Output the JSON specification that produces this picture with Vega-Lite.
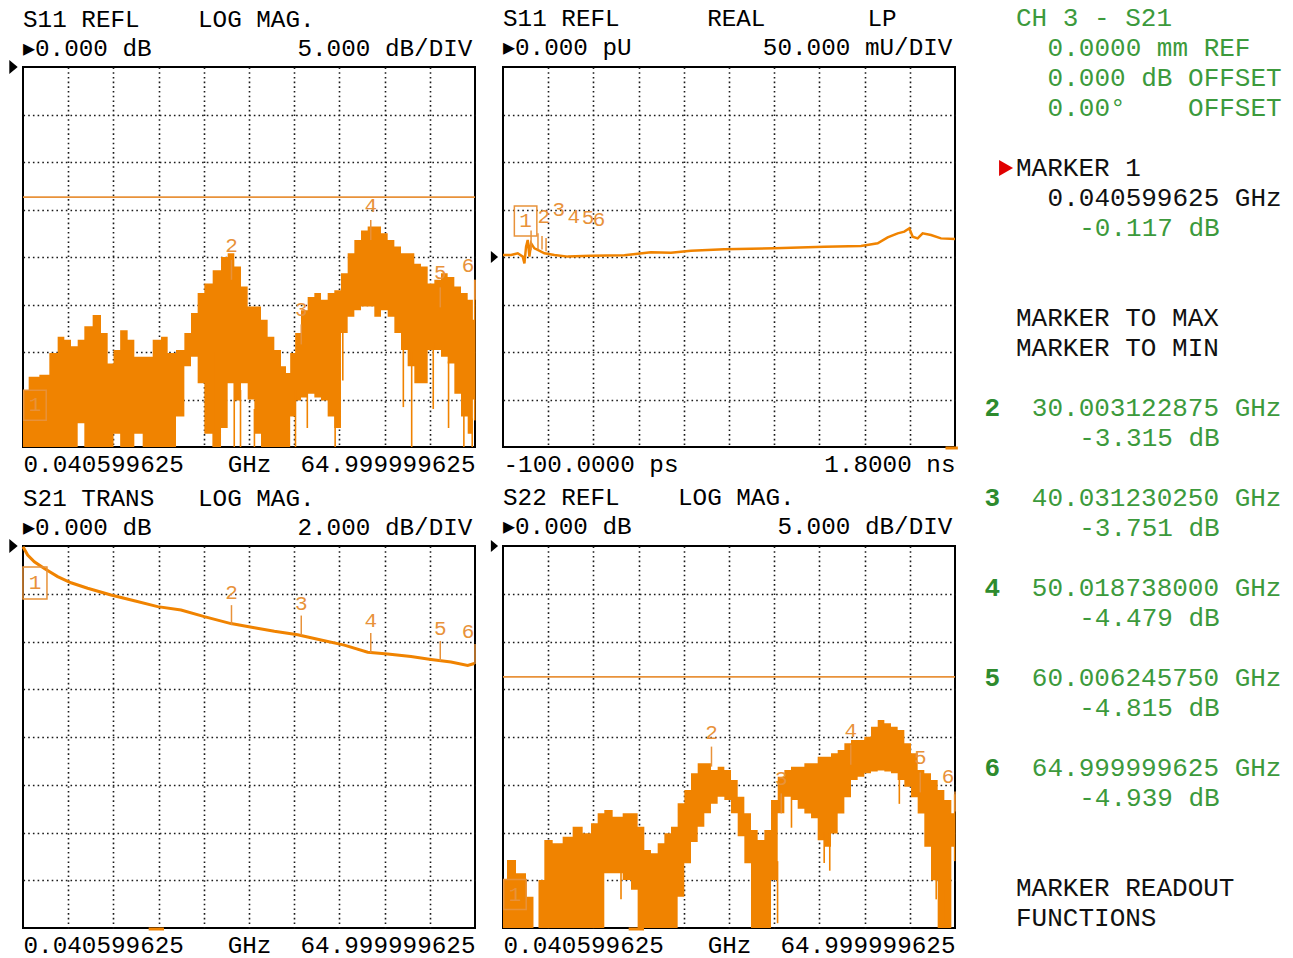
{
"$schema": "https://vega.github.io/schema/vega-lite/v6.json",
"background": "white",
"padding": {"left": 8, "top": 5, "right": 0, "bottom": 0},
"bounds": "flush",
"columns": 3,
"spacing": {"row": 99, "column": 28},
"config": {
  "view": {"stroke": "#000", "strokeWidth": 2},
  "axis": {"grid": true, "gridColor": "#1a1a1a", "gridDash": [1.6, 3.1], "gridWidth": 1.6, "labels": false, "ticks": false, "domain": false, "titleFont": "Liberation Mono", "titleFontSize": 24.3, "titleFontWeight": "normal", "titleColor": "#000"},
  "title": {"font": "Liberation Mono", "fontSize": 24.3, "fontWeight": "normal", "color": "#000", "anchor": "start", "frame": "group", "lineHeight": 29, "offset": 0},
  "text": {"font": "Liberation Mono"}
},
"concat": [
   {"width": 452, "height": 380,
    "title": {"text": ["S11\u00a0REFL\u00a0\u00a0\u00a0\u00a0LOG\u00a0MAG.", "▸0.000\u00a0dB\u00a0\u00a0\u00a0\u00a0\u00a0\u00a0\u00a0\u00a0\u00a0\u00a05.000\u00a0dB/DIV"], "offset": -1.5},
    "layer": [
     {"data": {"values": [
       {"f":0.04,"hi":-34.0,"lo":-40},{"f":1.67,"hi":-32.6,"lo":-40},{"f":3.11,"hi":-32.4,"lo":-40},{"f":4.54,"hi":-30.1,"lo":-40},{"f":5.50,"hi":-28.4,"lo":-40},{"f":6.46,"hi":-28.7,"lo":-40},{"f":7.42,"hi":-29.4,"lo":-40},{"f":8.38,"hi":-28.7,"lo":-37.5},{"f":9.33,"hi":-27.3,"lo":-40},{"f":10.77,"hi":-26.1,"lo":-40},{"f":11.73,"hi":-28.0,"lo":-40},{"f":12.69,"hi":-31.2,"lo":-40},{"f":13.41,"hi":-29.8,"lo":-38.6},{"f":14.60,"hi":-27.7,"lo":-40},{"f":15.56,"hi":-28.7,"lo":-40},{"f":16.52,"hi":-30.5,"lo":-38.6},{"f":17.96,"hi":-30.5,"lo":-40},{"f":19.40,"hi":-28.7,"lo":-40},{"f":20.35,"hi":-28.4,"lo":-40},{"f":21.31,"hi":-30.1,"lo":-40},{"f":22.75,"hi":-29.8,"lo":-36.8},{"f":23.71,"hi":-28.0,"lo":-31.5},{"f":24.66,"hi":-25.9,"lo":-30.5},{"f":25.62,"hi":-23.8,"lo":-33.3},{"f":26.58,"hi":-22.8,"lo":-38.6},{"f":28.02,"hi":-21.4,"lo":-40},{"f":28.98,"hi":-20.0,"lo":-38.0},{"f":29.93,"hi":-19.6,"lo":-33.3},{"f":30.89,"hi":-21.0,"lo":-35.1},{"f":31.85,"hi":-23.1,"lo":-33.3},{"f":32.81,"hi":-25.2,"lo":-35.0},{"f":33.77,"hi":-25.2,"lo":-38.6},{"f":34.72,"hi":-26.6,"lo":-40},{"f":35.68,"hi":-28.4,"lo":-40},{"f":36.64,"hi":-29.8,"lo":-40},{"f":37.60,"hi":-31.5,"lo":-40},{"f":38.08,"hi":-32.2,"lo":-40},{"f":38.80,"hi":-30.1,"lo":-36.8},{"f":39.51,"hi":-28.0,"lo":-35.1},{"f":40.47,"hi":-25.6,"lo":-34.8},{"f":41.43,"hi":-24.2,"lo":-34.4},{"f":42.39,"hi":-23.8,"lo":-34.8},{"f":43.35,"hi":-24.5,"lo":-35.1},{"f":44.30,"hi":-23.8,"lo":-36.8},{"f":45.26,"hi":-23.5,"lo":-38.0},{"f":46.22,"hi":-21.7,"lo":-28.0},{"f":47.18,"hi":-19.6,"lo":-26.3},{"f":48.14,"hi":-18.2,"lo":-25.6},{"f":49.10,"hi":-17.2,"lo":-25.2},{"f":50.05,"hi":-16.8,"lo":-25.2},{"f":51.01,"hi":-16.8,"lo":-26.3},{"f":51.97,"hi":-17.5,"lo":-25.6},{"f":52.93,"hi":-18.2,"lo":-26.3},{"f":53.89,"hi":-18.9,"lo":-28.0},{"f":54.84,"hi":-19.6,"lo":-29.8},{"f":55.80,"hi":-19.6,"lo":-31.5},{"f":56.76,"hi":-20.7,"lo":-33.3},{"f":57.72,"hi":-21.0,"lo":-33.3},{"f":58.68,"hi":-22.8,"lo":-29.8},{"f":59.63,"hi":-22.4,"lo":-29.8},{"f":60.59,"hi":-21.7,"lo":-30.5},{"f":61.55,"hi":-22.1,"lo":-31.2},{"f":62.51,"hi":-23.1,"lo":-34.4},{"f":63.47,"hi":-23.8,"lo":-36.8},{"f":64.43,"hi":-24.5,"lo":-38.6},{"f":64.96,"hi":-26.6,"lo":-35.0}]},
      "mark": {"type": "area", "color": "#f08300", "opacity": 1, "interpolate": "step"},
      "encoding": {
       "x": {"field": "f", "type": "quantitative", "scale": {"domain": [0.040599625, 64.999999625], "nice": false, "zero": false}, "axis": {"values": [6.5365,13.0325,19.5284,26.0244,32.5203,39.0162,45.5122,52.0081,58.5041], "title": "0.040599625\u00a0\u00a0\u00a0GHz\u00a0\u00a064.999999625", "titleAnchor": "start", "titleAlign": "left", "titleBaseline": "top", "titlePadding": 5}},
       "y": {"field": "hi", "type": "quantitative", "scale": {"domain": [-40, 0], "nice": false, "zero": false}, "axis": {"values": [-35,-30,-25,-20,-15,-10,-5], "title": null}},
       "y2": {"field": "lo"}}},
     {"data": {"values": [{"f":27.4,"top":-30,"bot":-40},{"f":30.4,"top":-33,"bot":-40},{"f":31.3,"top":-34,"bot":-40},{"f":33.3,"top":-36,"bot":-40},{"f":39.2,"top":-34,"bot":-40},{"f":40.9,"top":-34,"bot":-38},{"f":44.9,"top":-36,"bot":-40},{"f":46.0,"top":-28,"bot":-33},{"f":54.7,"top":-29,"bot":-35.8},{"f":55.9,"top":-30,"bot":-40},{"f":59.0,"top":-29,"bot":-36},{"f":61.2,"top":-31,"bot":-38},{"f":63.4,"top":-36,"bot":-40},{"f":64.6,"top":-37,"bot":-40},{"f":64.96,"top":-22.4,"bot":-37.2}]},
      "mark": {"type": "rule", "color": "#f08300", "strokeWidth": 1.6},
      "encoding": {"x": {"field": "f", "type": "quantitative"}, "y": {"field": "top", "type": "quantitative"}, "y2": {"field": "bot"}}},
     {"data": {"values": [{}]}, "mark": {"type": "rule", "color": "#e8923a", "strokeWidth": 1.6}, "encoding": {"y": {"datum": -13.7}}},
     {"data": {"values": [{"m":"2","f":30.003,"v":-22.4},{"m":"3","f":40.031,"v":-29.2},{"m":"4","f":50.019,"v":-18.2},{"m":"5","f":60.006,"v":-25.3},{"m":"6","f":64.9999,"v":-24.5}]},
      "layer": [
       {"mark": {"type": "rule", "color": "#e8923a", "strokeWidth": 1.5, "y2Offset": -20}, "encoding": {"x": {"field": "f", "type": "quantitative"}, "y": {"field": "v", "type": "quantitative"}, "y2": {"field": "v"}}},
       {"transform": [{"filter": "datum.m !== '6'"}], "mark": {"type": "text", "color": "#e8923a", "fontSize": 21, "dy": -34}, "encoding": {"x": {"field": "f", "type": "quantitative"}, "y": {"field": "v", "type": "quantitative"}, "text": {"field": "m"}}},
       {"transform": [{"filter": "datum.m === '6'"}], "mark": {"type": "text", "color": "#e8923a", "fontSize": 21, "dy": -34, "dx": -7}, "encoding": {"x": {"field": "f", "type": "quantitative"}, "y": {"field": "v", "type": "quantitative"}, "text": {"field": "m"}}}
      ]},
     {"data": {"values": [{"m":"1","f":1.76,"v":-35.6}]},
      "layer": [
       {"mark": {"type": "point", "shape": "M-0.75,-1L0.75,-1L0.75,1L-0.75,1Z", "size": 900, "filled": false, "color": "#e8923a", "strokeWidth": 1.5, "opacity": 1}, "encoding": {"x": {"field": "f", "type": "quantitative"}, "y": {"field": "v", "type": "quantitative"}}},
       {"mark": {"type": "text", "color": "#e8923a", "fontSize": 21}, "encoding": {"x": {"field": "f", "type": "quantitative"}, "y": {"field": "v", "type": "quantitative"}, "text": {"field": "m"}}}
      ]},
     {"data": {"values": [{}]}, "mark": {"type": "point", "shape": "M-0.6,-1L0.6,0L-0.6,1Z", "filled": true, "color": "#000", "size": 196, "xOffset": -9.5, "opacity": 1}, "encoding": {"x": {"datum": 0.040599625}, "y": {"datum": 0}}}
    ]},
   {"width": 452, "height": 380,
    "title": {"text": ["S11\u00a0REFL\u00a0\u00a0\u00a0\u00a0\u00a0\u00a0REAL\u00a0\u00a0\u00a0\u00a0\u00a0\u00a0\u00a0LP", "▸0.000\u00a0pU\u00a0\u00a0\u00a0\u00a0\u00a0\u00a0\u00a0\u00a0\u00a050.000\u00a0mU/DIV"], "offset": 7},
    "layer": [
     {"data": {"values": [{"t":-0.1,"v":2.1},{"t":-0.066,"v":2.1},{"t":-0.038,"v":3.9},{"t":-0.017,"v":0.4},{"t":-0.010,"v":-6.7},{"t":-0.003,"v":10.9},{"t":0.004,"v":17.9},{"t":0.011,"v":0.4},{"t":0.018,"v":14.4},{"t":0.032,"v":9.1},{"t":0.046,"v":7.4},{"t":0.074,"v":3.9},{"t":0.116,"v":2.1},{"t":0.172,"v":0.4},{"t":0.270,"v":1.4},{"t":0.410,"v":1.8},{"t":0.522,"v":4.9},{"t":0.606,"v":4.6},{"t":0.690,"v":6.7},{"t":0.830,"v":8.1},{"t":1.041,"v":9.1},{"t":1.251,"v":10.9},{"t":1.405,"v":11.6},{"t":1.475,"v":14.4},{"t":1.517,"v":20.7},{"t":1.559,"v":24.9},{"t":1.587,"v":26.7},{"t":1.608,"v":30.2},{"t":1.622,"v":21.4},{"t":1.643,"v":19.6},{"t":1.664,"v":24.9},{"t":1.699,"v":23.2},{"t":1.741,"v":19.6},{"t":1.800,"v":18.9}]},
      "mark": {"type": "line", "color": "#f08300", "strokeWidth": 2.5},
      "encoding": {
       "x": {"field": "t", "type": "quantitative", "scale": {"domain": [-0.1, 1.8], "nice": false, "zero": false}, "axis": {"values": [0.09,0.28,0.47,0.66,0.85,1.04,1.23,1.42,1.61], "title": "-100.0000\u00a0ps\u00a0\u00a0\u00a0\u00a0\u00a0\u00a0\u00a0\u00a0\u00a0\u00a01.8000\u00a0ns", "titleAnchor": "start", "titleAlign": "left", "titleBaseline": "top", "titlePadding": 5}},
       "y": {"field": "v", "type": "quantitative", "scale": {"domain": [-200, 200], "nice": false, "zero": false}, "axis": {"values": [-150,-100,-50,0,50,100,150], "title": null}}}},
     {"data": {"values": [{"t":0.018,"a":7,"b":28},{"t":0.047,"a":8,"b":25},{"t":0.064,"a":8,"b":22},{"t":0.081,"a":6,"b":20}]},
      "mark": {"type": "rule", "color": "#e8923a", "strokeWidth": 1.5},
      "encoding": {"x": {"field": "t", "type": "quantitative"}, "y": {"field": "a", "type": "quantitative"}, "y2": {"field": "b"}}},
     {"data": {"values": [{"m":"2","t":0.072,"v":42},{"m":"3","t":0.135,"v":49.5},{"m":"4","t":0.198,"v":42},{"m":"5","t":0.257,"v":41},{"m":"6","t":0.304,"v":39}]},
      "mark": {"type": "text", "color": "#e8923a", "fontSize": 21},
      "encoding": {"x": {"field": "t", "type": "quantitative"}, "y": {"field": "v", "type": "quantitative"}, "text": {"field": "m"}}},
     {"data": {"values": [{"m":"1","t":-0.005,"v":37.9}]},
      "layer": [
       {"mark": {"type": "point", "shape": "M-0.75,-1L0.75,-1L0.75,1L-0.75,1Z", "size": 900, "filled": false, "color": "#e8923a", "strokeWidth": 1.5, "opacity": 1}, "encoding": {"x": {"field": "t", "type": "quantitative"}, "y": {"field": "v", "type": "quantitative"}}},
       {"mark": {"type": "text", "color": "#e8923a", "fontSize": 21}, "encoding": {"x": {"field": "t", "type": "quantitative"}, "y": {"field": "v", "type": "quantitative"}, "text": {"field": "m"}}}
      ]},
     {"data": {"values": [{}]}, "mark": {"type": "rule", "color": "#f08300", "strokeWidth": 3, "yOffset": 1}, "encoding": {"x": {"datum": 1.76}, "x2": {"datum": 1.812}, "y": {"datum": -200}}},
     {"data": {"values": [{}]}, "mark": {"type": "point", "shape": "M-0.6,-1L0.6,0L-0.6,1Z", "filled": true, "color": "#000", "size": 144, "xOffset": -8.5, "opacity": 1}, "encoding": {"x": {"datum": -0.1}, "y": {"datum": 0}}}
    ]},
   {"width": 310, "height": 380,
    "view": {"stroke": null},
    "layer": [
     {"data": {"values": [
       {"line":0,"col":0,"text":"CH 3 - S21","kind":"green"},
       {"line":1,"col":2,"text":"0.0000 mm REF","kind":"green"},
       {"line":2,"col":2,"text":"0.000 dB OFFSET","kind":"green"},
       {"line":3,"col":2,"text":"0.00°\u00a0\u00a0\u00a0\u00a0OFFSET","kind":"green"},
       {"line":5,"col":0,"text":"MARKER 1","kind":"black"},
       {"line":6,"col":2,"text":"0.040599625 GHz","kind":"black"},
       {"line":7,"col":4,"text":"-0.117 dB","kind":"green"},
       {"line":10,"col":0,"text":"MARKER TO MAX","kind":"black"},
       {"line":11,"col":0,"text":"MARKER TO MIN","kind":"black"},
       {"line":13,"col":-2,"text":"2","kind":"num"},
       {"line":13,"col":1,"text":"30.003122875 GHz","kind":"green"},
       {"line":14,"col":4,"text":"-3.315 dB","kind":"green"},
       {"line":16,"col":-2,"text":"3","kind":"num"},
       {"line":16,"col":1,"text":"40.031230250 GHz","kind":"green"},
       {"line":17,"col":4,"text":"-3.751 dB","kind":"green"}]},
      "layer": [
       {"transform": [{"filter": "datum.kind !== 'num'"}],
        "mark": {"type": "text", "align": "left", "baseline": "middle", "fontSize": 26, "font": "Liberation Mono"},
        "encoding": {
         "x": {"field": "col", "type": "quantitative", "scale": {"domain": [-2.09, 17.53], "nice": false, "zero": false}, "axis": null},
         "y": {"field": "line", "type": "quantitative", "scale": {"domain": [1.6333, 14.3], "reverse": true, "nice": false, "zero": false}, "axis": null},
         "text": {"field": "text"},
         "color": {"field": "kind", "type": "nominal", "scale": {"domain": ["green", "black", "num"], "range": ["#3c9a3c", "#111111", "#2e8b2e"]}, "legend": null}}},
       {"transform": [{"filter": "datum.kind === 'num'"}],
        "mark": {"type": "text", "align": "left", "baseline": "middle", "fontSize": 26, "fontWeight": "bold", "font": "Liberation Mono"},
        "encoding": {
         "x": {"field": "col", "type": "quantitative"},
         "y": {"field": "line", "type": "quantitative"},
         "text": {"field": "text"},
         "color": {"field": "kind", "type": "nominal", "legend": null}}}
      ]},
     {"data": {"values": [{}]}, "mark": {"type": "point", "shape": "M-0.875,-1L0.875,0L-0.875,1Z", "filled": true, "color": "#e00000", "size": 256, "opacity": 1}, "encoding": {"x": {"datum": -0.63}, "y": {"datum": 5}}}
    ]},
   {"width": 452, "height": 382,
    "title": {"text": ["S21\u00a0TRANS\u00a0\u00a0\u00a0LOG\u00a0MAG.", "▸0.000\u00a0dB\u00a0\u00a0\u00a0\u00a0\u00a0\u00a0\u00a0\u00a0\u00a0\u00a02.000\u00a0dB/DIV"], "offset": -1.5},
    "layer": [
     {"data": {"values": [{"f":0.04,"v":-0.03},{"f":0.71,"v":-0.38},{"f":1.67,"v":-0.66},{"f":3.11,"v":-0.94},{"f":5.02,"v":-1.28},{"f":6.94,"v":-1.54},{"f":9.33,"v":-1.77},{"f":12.69,"v":-2.05},{"f":16.04,"v":-2.29},{"f":19.39,"v":-2.54},{"f":22.75,"v":-2.68},{"f":26.10,"v":-2.96},{"f":29.93,"v":-3.25},{"f":33.29,"v":-3.42},{"f":36.16,"v":-3.57},{"f":39.51,"v":-3.72},{"f":42.87,"v":-3.94},{"f":46.22,"v":-4.15},{"f":49.58,"v":-4.45},{"f":52.45,"v":-4.52},{"f":55.80,"v":-4.63},{"f":58.68,"v":-4.75},{"f":61.55,"v":-4.86},{"f":63.95,"v":-5.0},{"f":64.90,"v":-4.92}]},
      "mark": {"type": "line", "color": "#f08300", "strokeWidth": 3},
      "encoding": {
       "x": {"field": "f", "type": "quantitative", "scale": {"domain": [0.040599625, 64.999999625], "nice": false, "zero": false}, "axis": {"values": [6.5365,13.0325,19.5284,26.0244,32.5203,39.0162,45.5122,52.0081,58.5041], "title": "0.040599625\u00a0\u00a0\u00a0GHz\u00a0\u00a064.999999625", "titleAnchor": "start", "titleAlign": "left", "titleBaseline": "top", "titlePadding": 5}},
       "y": {"field": "v", "type": "quantitative", "scale": {"domain": [-16, 0], "nice": false, "zero": false}, "axis": {"values": [-14,-12,-10,-8,-6,-4,-2], "title": null}}}},
     {"data": {"values": [{"m":"2","f":30.003,"v":-3.315},{"m":"3","f":40.031,"v":-3.751},{"m":"4","f":50.019,"v":-4.479},{"m":"5","f":60.006,"v":-4.815},{"m":"6","f":64.9999,"v":-4.939}]},
      "layer": [
       {"mark": {"type": "rule", "color": "#e8923a", "strokeWidth": 1.5, "y2Offset": -20}, "encoding": {"x": {"field": "f", "type": "quantitative"}, "y": {"field": "v", "type": "quantitative"}, "y2": {"field": "v"}}},
       {"transform": [{"filter": "datum.m !== '6'"}], "mark": {"type": "text", "color": "#e8923a", "fontSize": 21, "dy": -32}, "encoding": {"x": {"field": "f", "type": "quantitative"}, "y": {"field": "v", "type": "quantitative"}, "text": {"field": "m"}}},
       {"transform": [{"filter": "datum.m === '6'"}], "mark": {"type": "text", "color": "#e8923a", "fontSize": 21, "dy": -32, "dx": -7}, "encoding": {"x": {"field": "f", "type": "quantitative"}, "y": {"field": "v", "type": "quantitative"}, "text": {"field": "m"}}}
      ]},
     {"data": {"values": [{"m":"1","f":1.76,"v":-1.55}]},
      "layer": [
       {"mark": {"type": "point", "shape": "M-0.75,-1L0.75,-1L0.75,1L-0.75,1Z", "size": 1024, "filled": false, "color": "#e8923a", "strokeWidth": 1.5, "opacity": 1}, "encoding": {"x": {"field": "f", "type": "quantitative"}, "y": {"field": "v", "type": "quantitative"}}},
       {"mark": {"type": "text", "color": "#e8923a", "fontSize": 21}, "encoding": {"x": {"field": "f", "type": "quantitative"}, "y": {"field": "v", "type": "quantitative"}, "text": {"field": "m"}}}
      ]},
     {"data": {"values": [{}]}, "mark": {"type": "rule", "color": "#f08300", "strokeWidth": 3, "yOffset": 1}, "encoding": {"x": {"datum": 18.1}, "x2": {"datum": 20.3}, "y": {"datum": -16}}},
     {"data": {"values": [{}]}, "mark": {"type": "point", "shape": "M-0.6,-1L0.6,0L-0.6,1Z", "filled": true, "color": "#000", "size": 196, "xOffset": -9.5, "opacity": 1}, "encoding": {"x": {"datum": 0.040599625}, "y": {"datum": 0}}}
    ]},
   {"width": 452, "height": 382,
    "title": {"text": ["S22\u00a0REFL\u00a0\u00a0\u00a0\u00a0LOG\u00a0MAG.", "▸0.000\u00a0dB\u00a0\u00a0\u00a0\u00a0\u00a0\u00a0\u00a0\u00a0\u00a0\u00a05.000\u00a0dB/DIV"], "offset": 1},
    "layer": [
     {"data": {"values": [
       {"f":0.04,"hi":-34.97,"lo":-40},{"f":1.19,"hi":-32.88,"lo":-40},{"f":2.63,"hi":-34.28,"lo":-40},{"f":4.06,"hi":-36.72,"lo":-40},{"f":4.78,"hi":-40,"lo":-40},{"f":5.50,"hi":-34.97,"lo":-40},{"f":6.46,"hi":-30.79,"lo":-40},{"f":7.90,"hi":-31.13,"lo":-40},{"f":9.33,"hi":-30.44,"lo":-40},{"f":10.77,"hi":-29.39,"lo":-40},{"f":12.21,"hi":-30.09,"lo":-40},{"f":13.17,"hi":-29.04,"lo":-40},{"f":14.12,"hi":-27.99,"lo":-40},{"f":15.08,"hi":-27.64,"lo":-34.28},{"f":16.52,"hi":-28.34,"lo":-34.28},{"f":17.96,"hi":-27.99,"lo":-34.97},{"f":18.91,"hi":-27.99,"lo":-36.0},{"f":19.87,"hi":-29.39,"lo":-40},{"f":20.83,"hi":-31.83,"lo":-40},{"f":21.79,"hi":-32.18,"lo":-40},{"f":22.75,"hi":-31.13,"lo":-40},{"f":23.71,"hi":-30.09,"lo":-40},{"f":24.66,"hi":-29.39,"lo":-40},{"f":25.62,"hi":-26.95,"lo":-36.72},{"f":26.58,"hi":-25.55,"lo":-33.23},{"f":27.54,"hi":-23.80,"lo":-31.0},{"f":28.50,"hi":-22.76,"lo":-29.4},{"f":29.45,"hi":-22.76,"lo":-27.99},{"f":30.41,"hi":-23.46,"lo":-27.0},{"f":31.37,"hi":-23.11,"lo":-26.25},{"f":32.33,"hi":-23.46,"lo":-26.6},{"f":33.29,"hi":-24.50,"lo":-27.99},{"f":34.25,"hi":-26.25,"lo":-30.4},{"f":35.20,"hi":-27.99,"lo":-33.23},{"f":36.16,"hi":-29.74,"lo":-40},{"f":37.12,"hi":-30.79,"lo":-40},{"f":38.08,"hi":-29.74,"lo":-40},{"f":39.04,"hi":-26.60,"lo":-34.97},{"f":40.00,"hi":-24.15,"lo":-27.99},{"f":40.95,"hi":-23.46,"lo":-26.25},{"f":41.91,"hi":-23.11,"lo":-26.6},{"f":42.87,"hi":-23.11,"lo":-27.5},{"f":43.83,"hi":-22.76,"lo":-28.0},{"f":44.79,"hi":-22.76,"lo":-28.5},{"f":45.74,"hi":-22.06,"lo":-30.8},{"f":46.70,"hi":-22.06,"lo":-31.5},{"f":47.66,"hi":-21.71,"lo":-30.1},{"f":48.62,"hi":-21.36,"lo":-28.0},{"f":49.58,"hi":-20.66,"lo":-26.3},{"f":50.53,"hi":-20.31,"lo":-24.5},{"f":51.49,"hi":-20.31,"lo":-24.15},{"f":52.45,"hi":-19.97,"lo":-23.8},{"f":53.41,"hi":-18.92,"lo":-23.6},{"f":54.37,"hi":-18.22,"lo":-23.5},{"f":55.32,"hi":-18.57,"lo":-23.6},{"f":56.28,"hi":-18.92,"lo":-23.8},{"f":57.24,"hi":-19.27,"lo":-24.5},{"f":58.20,"hi":-20.66,"lo":-25.2},{"f":59.16,"hi":-21.71,"lo":-26.3},{"f":60.11,"hi":-23.46,"lo":-28.0},{"f":61.07,"hi":-23.80,"lo":-31.5},{"f":62.03,"hi":-24.50,"lo":-35.0},{"f":62.99,"hi":-25.55,"lo":-40},{"f":63.95,"hi":-26.60,"lo":-40},{"f":65.00,"hi":-27.99,"lo":-31.5}]},
      "mark": {"type": "area", "color": "#f08300", "opacity": 1, "interpolate": "step"},
      "encoding": {
       "x": {"field": "f", "type": "quantitative", "scale": {"domain": [0.040599625, 64.999999625], "nice": false, "zero": false}, "axis": {"values": [6.5365,13.0325,19.5284,26.0244,32.5203,39.0162,45.5122,52.0081,58.5041], "title": "0.040599625\u00a0\u00a0\u00a0GHz\u00a0\u00a064.999999625", "titleAnchor": "start", "titleAlign": "left", "titleBaseline": "top", "titlePadding": 5}},
       "y": {"field": "hi", "type": "quantitative", "scale": {"domain": [-40, 0], "nice": false, "zero": false}, "axis": {"values": [-35,-30,-25,-20,-15,-10,-5], "title": null}},
       "y2": {"field": "lo"}}},
     {"data": {"values": [{"f":17.0,"top":-34,"bot":-37},{"f":39.5,"top":-33,"bot":-39.5},{"f":41.5,"top":-26,"bot":-29.5},{"f":46.2,"top":-30,"bot":-33.2},{"f":47.0,"top":-30,"bot":-34},{"f":57.0,"top":-24,"bot":-27},{"f":62.3,"top":-34,"bot":-37},{"f":63.4,"top":-36,"bot":-40},{"f":64.95,"top":-26,"bot":-33}]},
      "mark": {"type": "rule", "color": "#f08300", "strokeWidth": 1.6},
      "encoding": {"x": {"field": "f", "type": "quantitative"}, "y": {"field": "top", "type": "quantitative"}, "y2": {"field": "bot"}}},
     {"data": {"values": [{}]}, "mark": {"type": "rule", "color": "#e8923a", "strokeWidth": 1.6}, "encoding": {"y": {"datum": -13.7}}},
     {"data": {"values": [{"m":"2","f":30.003,"v":-23.1},{"m":"3","f":40.031,"v":-28.0},{"m":"4","f":50.019,"v":-22.9},{"m":"5","f":60.006,"v":-25.8},{"m":"6","f":64.9999,"v":-27.8}]},
      "layer": [
       {"mark": {"type": "rule", "color": "#e8923a", "strokeWidth": 1.5, "y2Offset": -20}, "encoding": {"x": {"field": "f", "type": "quantitative"}, "y": {"field": "v", "type": "quantitative"}, "y2": {"field": "v"}}},
       {"transform": [{"filter": "datum.m !== '6'"}], "mark": {"type": "text", "color": "#e8923a", "fontSize": 21, "dy": -34}, "encoding": {"x": {"field": "f", "type": "quantitative"}, "y": {"field": "v", "type": "quantitative"}, "text": {"field": "m"}}},
       {"transform": [{"filter": "datum.m === '6'"}], "mark": {"type": "text", "color": "#e8923a", "fontSize": 21, "dy": -34, "dx": -7}, "encoding": {"x": {"field": "f", "type": "quantitative"}, "y": {"field": "v", "type": "quantitative"}, "text": {"field": "m"}}}
      ]},
     {"data": {"values": [{"m":"1","f":1.76,"v":-36.5}]},
      "layer": [
       {"mark": {"type": "point", "shape": "M-0.75,-1L0.75,-1L0.75,1L-0.75,1Z", "size": 900, "filled": false, "color": "#e8923a", "strokeWidth": 1.5, "opacity": 1}, "encoding": {"x": {"field": "f", "type": "quantitative"}, "y": {"field": "v", "type": "quantitative"}}},
       {"mark": {"type": "text", "color": "#e8923a", "fontSize": 21}, "encoding": {"x": {"field": "f", "type": "quantitative"}, "y": {"field": "v", "type": "quantitative"}, "text": {"field": "m"}}}
      ]},
     {"data": {"values": [{}]}, "mark": {"type": "rule", "color": "#f08300", "strokeWidth": 3, "yOffset": 1}, "encoding": {"x": {"datum": 18.1}, "x2": {"datum": 20.3}, "y": {"datum": -40}}},
     {"data": {"values": [{}]}, "mark": {"type": "point", "shape": "M-0.6,-1L0.6,0L-0.6,1Z", "filled": true, "color": "#000", "size": 144, "xOffset": -8.5, "opacity": 1}, "encoding": {"x": {"datum": 0.040599625}, "y": {"datum": 0}}}
    ]},
   {"width": 310, "height": 382,
    "view": {"stroke": null},
    "data": {"values": [
       {"line":19,"col":-2,"text":"4","kind":"num"},
       {"line":19,"col":1,"text":"50.018738000 GHz","kind":"green"},
       {"line":20,"col":4,"text":"-4.479 dB","kind":"green"},
       {"line":22,"col":-2,"text":"5","kind":"num"},
       {"line":22,"col":1,"text":"60.006245750 GHz","kind":"green"},
       {"line":23,"col":4,"text":"-4.815 dB","kind":"green"},
       {"line":25,"col":-2,"text":"6","kind":"num"},
       {"line":25,"col":1,"text":"64.999999625 GHz","kind":"green"},
       {"line":26,"col":4,"text":"-4.939 dB","kind":"green"},
       {"line":29,"col":0,"text":"MARKER READOUT","kind":"black"},
       {"line":30,"col":0,"text":"FUNCTIONS","kind":"black"}]},
    "layer": [
     {"transform": [{"filter": "datum.kind !== 'num'"}],
      "mark": {"type": "text", "align": "left", "baseline": "middle", "fontSize": 26, "font": "Liberation Mono"},
      "encoding": {
       "x": {"field": "col", "type": "quantitative", "scale": {"domain": [-2.09, 17.53], "nice": false, "zero": false}, "axis": null},
       "y": {"field": "line", "type": "quantitative", "scale": {"domain": [17.6, 30.3333], "reverse": true, "nice": false, "zero": false}, "axis": null},
       "text": {"field": "text"},
       "color": {"field": "kind", "type": "nominal", "scale": {"domain": ["green", "black", "num"], "range": ["#3c9a3c", "#111111", "#2e8b2e"]}, "legend": null}}},
     {"transform": [{"filter": "datum.kind === 'num'"}],
      "mark": {"type": "text", "align": "left", "baseline": "middle", "fontSize": 26, "fontWeight": "bold", "font": "Liberation Mono"},
      "encoding": {
       "x": {"field": "col", "type": "quantitative"},
       "y": {"field": "line", "type": "quantitative"},
       "text": {"field": "text"},
       "color": {"field": "kind", "type": "nominal", "legend": null}}}
    ]}
]
}
